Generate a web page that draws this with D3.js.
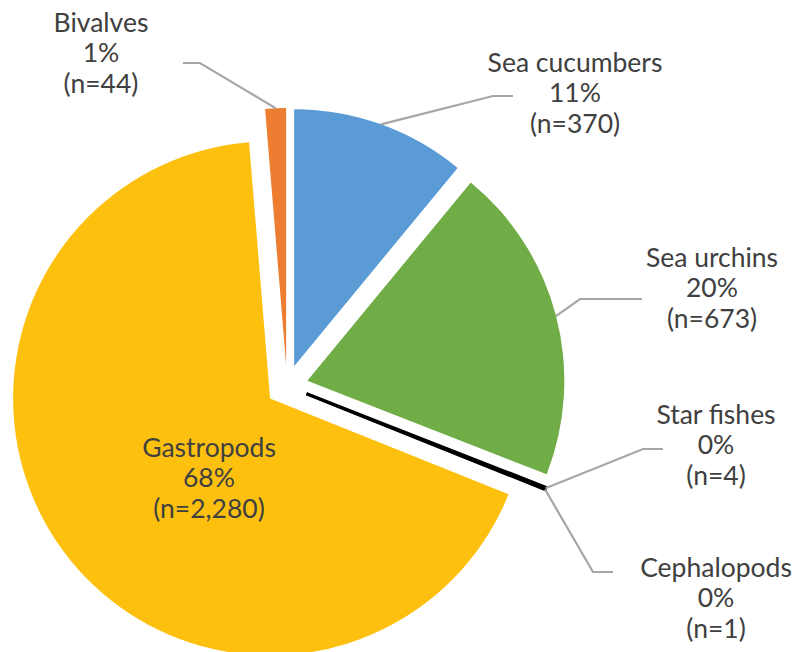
<!DOCTYPE html>
<meta charset="utf-8">
<style>
  body { margin: 0; background: #fff; }
  svg { display: block; }
  .lbl { font-family: Lato, "Open Sans", sans-serif; font-size: 26.5px; fill: #404040; }
  .leader { fill: none; stroke: #a6a6a6; stroke-width: 2.2; }
</style>
<body>
<div id="chart"></div>
<script src="https://d3js.org/d3.v7.min.js"></script>
<script>
// data
const categories = ["Sea cucumbers", "Sea urchins", "Star fishes", "Cephalopods", "Gastropods", "Bivalves"];
const counts = [370, 673, 4, 1, 2280, 44];
const percentLabels = ["11%", "20%", "0%", "0%", "68%", "1%"];
const countLabels = ["(n=370)", "(n=673)", "(n=4)", "(n=1)", "(n=2,280)", "(n=44)"];

const colors = ["#5b9bd5", "#70ad47", "#000000", "#000000", "#fdc00f", "#ed7d31"];

// label layout: x = text centre, y = first baseline, leader = [kink, end] or null
const labelLayout = [
  { x: 575, y: 72,  leader: [[493, 96], [513, 96]] },
  { x: 712, y: 267, leader: [[580, 299], [642, 299]] },
  { x: 716, y: 424, leader: [[643, 449], [663, 449]] },
  { x: 716, y: 577, leader: [[593, 572], [613, 572]] },
  { x: 209, y: 457, leader: null },
  { x: 101, y: 32,  leader: [[200, 63], [183, 63]] }
];

const width = 796, height = 652;
const cx = 287, cy = 386, radius = 257, explode = 21;

const svg = d3.select("#chart").append("svg")
  .attr("width", width)
  .attr("height", height);

const pie = d3.pie().sort(null).value(d => d.value);
const arcs = pie(categories.map((c, i) => ({ name: c, value: counts[i], i })));

const arc = d3.arc().innerRadius(0).outerRadius(radius);

function offset(a) {
  const m = (a.startAngle + a.endAngle) / 2;
  return [cx + Math.sin(m) * explode, cy - Math.cos(m) * explode];
}

// slices
svg.selectAll(".slice")
  .data(arcs)
  .join("path")
  .attr("class", "slice")
  .attr("transform", d => `translate(${offset(d)})`)
  .attr("d", arc)
  .attr("fill", d => colors[d.data.i])
  .attr("stroke", d => d.data.value < 10 ? "#000" : "none")
  .attr("stroke-width", d => d.data.value < 10 ? 3 : 0);

// leader lines from the slice edge to the label
svg.selectAll(".leader")
  .data(arcs.filter(d => labelLayout[d.data.i].leader))
  .join("polyline")
  .attr("class", "leader")
  .attr("points", d => {
    const m = (d.startAngle + d.endAngle) / 2;
    const [ox, oy] = offset(d);
    const start = [ox + Math.sin(m) * radius, oy - Math.cos(m) * radius];
    return [start, ...labelLayout[d.data.i].leader].map(p => p.join(",")).join(" ");
  });

// labels
const lineOffsets = [0, 30, 61];
const labels = svg.selectAll(".lbl")
  .data(arcs)
  .join("text")
  .attr("class", "lbl")
  .attr("text-anchor", "middle");

labels.each(function(d) {
  const L = labelLayout[d.data.i];
  const lines = [d.data.name, percentLabels[d.data.i], countLabels[d.data.i]];
  d3.select(this).selectAll("tspan")
    .data(lines)
    .join("tspan")
    .attr("x", L.x)
    .attr("y", (t, k) => L.y + lineOffsets[k])
    .text(t => t);
});
</script>
</body>
